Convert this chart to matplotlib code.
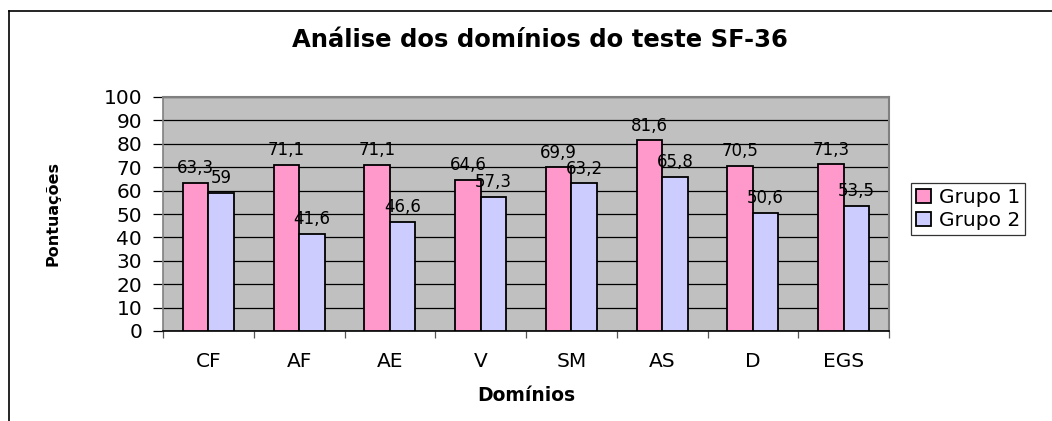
import matplotlib.pyplot as plt
import numpy as np
from matplotlib.lines import Line2D

# dados do gráfico
dominios = ['CF', 'AF', 'AE', 'V', 'SM', 'AS', 'D', 'EGS']
grupo1 = [63.3, 71.1, 71.1, 64.6, 69.9, 81.6, 70.5, 71.3]
grupo2 = [59, 41.6, 46.6, 57.3, 63.2, 65.8, 50.6, 53.5]
series_nomes = ['Grupo 1', 'Grupo 2']
yticks = list(range(0, 101, 10))

plt.rcParams['font.family'] = ['DejaVu Sans']

fig = plt.figure(figsize=(10.52, 4.21), dpi=100)
ax = fig.add_axes([163/1052, 1 - 331/421, (889 - 163)/1052, (331 - 97)/421])
ax.set_facecolor('#c0c0c0')

x = np.arange(len(dominios))
w = 0.28
b1 = ax.bar(x - w/2, grupo1, w, color='#ff99cc', edgecolor='black', linewidth=1.3,
            label=series_nomes[0], zorder=3)
b2 = ax.bar(x + w/2, grupo2, w, color='#ccccff', edgecolor='black', linewidth=1.3,
            label=series_nomes[1], zorder=3)

def fmt(v):
    return ('%g' % v).replace('.', ',')

for bars, vals in ((b1, grupo1), (b2, grupo2)):
    for r, v in zip(bars, vals):
        ax.annotate(fmt(v), (r.get_x() + r.get_width()/2, v), xytext=(0, 4),
                    textcoords='offset points', ha='center', va='bottom',
                    fontsize=12, zorder=4)

ax.set_xlim(-0.5, len(dominios) - 0.5)
ax.set_ylim(0, 100)
ax.set_yticks(yticks)
ax.yaxis.grid(True, color='black', linewidth=0.9, zorder=1)
ax.tick_params(axis='y', length=7, width=0.9, labelsize=14.5, pad=8)

ax.set_xticks(x)
ax.set_xticklabels(dominios)
ax.set_xticks(np.arange(len(dominios) + 1) - 0.5, minor=True)
ax.tick_params(axis='x', which='major', length=0, labelsize=14.5, pad=15)
ax.tick_params(axis='x', which='minor', length=5, width=0.9, color='#555555')

for s in ('top', 'right'):
    ax.spines[s].set_color('#808080')
    ax.spines[s].set_linewidth(1.5)
ax.spines['left'].set_color('#808080')
ax.spines['left'].set_linewidth(1.2)
ax.spines['bottom'].set_color('black')
ax.spines['bottom'].set_linewidth(1.2)

ax.set_xlabel('Domínios', fontsize=13.5, fontweight='bold', labelpad=11)
ax.set_ylabel('Pontuações', fontsize=11.5, fontweight='bold', labelpad=31)

fig.text(540/1052, 1 - 40/421, 'Análise dos domínios do teste SF-36',
         ha='center', va='center', fontsize=17.5, fontweight='bold')

leg = fig.legend(handles=[b1, b2], loc='upper left',
                 bbox_to_anchor=(911/1052, 1 - 183/421), fontsize=14.5,
                 frameon=True, fancybox=False, edgecolor='black',
                 handlelength=0.75, handleheight=0.75, handletextpad=0.4,
                 borderpad=0.25, labelspacing=0.2, borderaxespad=0)
leg.get_frame().set_linewidth(0.9)

# moldura externa do gráfico
fig.add_artist(Line2D([9/1052, 1], [1 - 11/421, 1 - 11/421], color='black', lw=1.2))
fig.add_artist(Line2D([9/1052, 9/1052], [0, 1 - 11/421], color='black', lw=1.2))

fig.savefig('out.png', dpi=100)
